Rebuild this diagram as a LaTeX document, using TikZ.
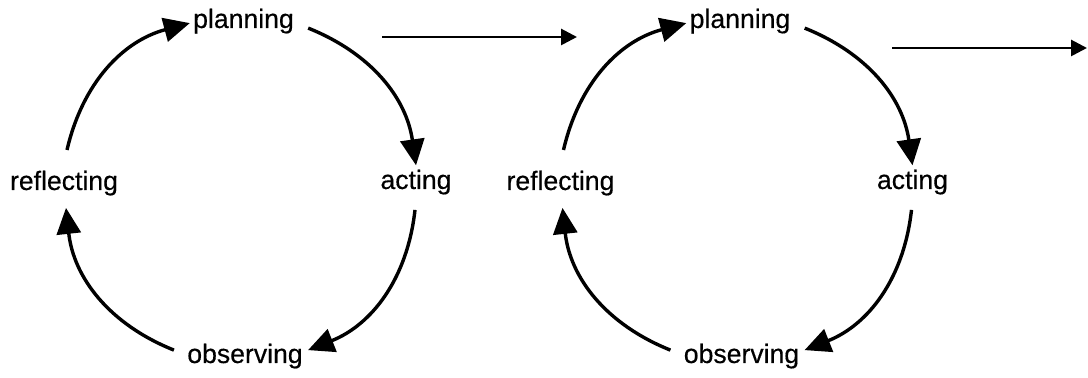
\documentclass[tikz,border=0pt]{standalone}
\usepackage{fontspec}
\setmainfont{Liberation Sans}
\newfontfamily\lblfont{Liberation Sans}[FakeBold=0.4]
\usetikzlibrary{arrows.meta}
\tikzset{
  lbl/.style={inner sep=0pt, anchor=base, font=\fontsize{13.3}{16}\lblfont},
  cyc/.style={line width=1.7pt, -{Triangle[length=13pt,width=12pt]}},
  flow/.style={line width=1.4pt, -{Triangle[length=8pt,width=8pt]}}
}
\begin{document}
\begin{tikzpicture}[x=0.5pt,y=0.5pt]
\useasboundingbox (0,0) rectangle (1088,378);
\foreach \dx/\s in {0/L,496.5/R}{
  \node[lbl] (plan\s) at (243.5+\dx,350) {planning};
  \node[lbl] (act\s)  at (416+\dx,189) {acting};
  \node[lbl] (obs\s)  at (245+\dx,15) {observing};
  \node[lbl] (refl\s) at (64+\dx,188) {reflecting};
  \draw[cyc] ([shift={(3,40)}]refl\s.base) to[bend left=31] ([shift={(-3,-2)}]plan\s.west);
  \draw[cyc] ([shift={(14,-7)}]plan\s.east) to[bend left=30] ([shift={(0,4)}]act\s.north);
  \draw[cyc] ([shift={(-1,-15)}]act\s.south) to[bend left=31] ([shift={(5,6)}]obs\s.east);
  \draw[cyc] ([shift={(-13,6)}]obs\s.west) to[bend left=31] ([shift={(2,-12)}]refl\s.south);
}
\coordinate (f1s) at (382,341);
\coordinate (f1e) at (577,341);
\coordinate (f2s) at (892,330);
\coordinate (f2e) at (1087,330);
\draw[flow] (f1s) -- (f1e);
\draw[flow] (f2s) -- (f2e);
\end{tikzpicture}
\end{document}
